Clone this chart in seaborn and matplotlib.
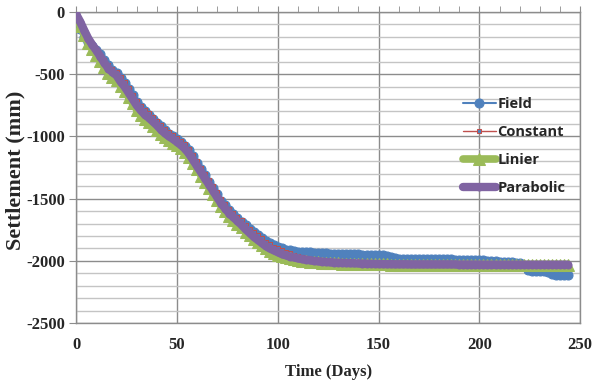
import matplotlib
matplotlib.use("Agg")
import matplotlib.pyplot as plt
from matplotlib.ticker import MultipleLocator
import pandas as pd
import seaborn as sb

# readings every 2 days, day 0 .. 244
days = list(range(0, 246, 2))

field = [-60, -140, -200, -240, -275, -305, -340, -385, -430, -465, -490,
         -530, -575, -620, -670, -720, -765, -800, -830, -860, -890,
         -920, -950, -980, -1000, -1020, -1045, -1075, -1110, -1160, -1210,
         -1260, -1310, -1365, -1415, -1465, -1515, -1555, -1595, -1625, -1655,
         -1685, -1715, -1745, -1770, -1795, -1820, -1840, -1860, -1875, -1890,
         -1900, -1910, -1915, -1920, -1925, -1928, -1930, -1932, -1934, -1936,
         -1938, -1940, -1941, -1942, -1943, -1944, -1945, -1946, -1947, -1948,
         -1949, -1950, -1951, -1952, -1953, -1955, -1962, -1972, -1980, -1982,
         -1982, -1983, -1983, -1984, -1984, -1985, -1985, -1986, -1986, -1987,
         -1987, -1988, -1988, -1989, -1989, -1990, -1990, -1991, -1992, -1993,
         -1995, -1998, -2000, -2003, -2005, -2008, -2010, -2012, -2015, -2018,
         -2040, -2075, -2080, -2080, -2082, -2085, -2088, -2108, -2110, -2112,
         -2112, -2112]

constant = [-20, -80, -150, -210, -255, -300, -345, -385, -425, -455, -480,
            -525, -565, -615, -665, -715, -755, -790, -815, -845, -875,
            -910, -940, -965, -985, -1010, -1035, -1065, -1100, -1150, -1200,
            -1250, -1300, -1350, -1400, -1450, -1500, -1540, -1580, -1615, -1645,
            -1675, -1710, -1740, -1770, -1795, -1820, -1845, -1865, -1885, -1900,
            -1915, -1930, -1940, -1950, -1960, -1968, -1975, -1982, -1988, -1993,
            -1997, -2000, -2003, -2006, -2008, -2010, -2012, -2014, -2015, -2016,
            -2018, -2018, -2019, -2019, -2020, -2020, -2021, -2021, -2022, -2022,
            -2022, -2023, -2023, -2023, -2024, -2024, -2024, -2024, -2025, -2025,
            -2025, -2025, -2025, -2025, -2025, -2025, -2025, -2025, -2025, -2025,
            -2025, -2025, -2025, -2025, -2025, -2025, -2025, -2025, -2025, -2025,
            -2025, -2025, -2025, -2025, -2025, -2025, -2025, -2025, -2025, -2025,
            -2025, -2025]

linier = [-40, -115, -185, -250, -300, -345, -395, -445, -490, -520, -545,
          -595, -635, -685, -735, -785, -825, -860, -885, -915, -945,
          -980, -1005, -1030, -1050, -1070, -1095, -1125, -1165, -1215, -1265,
          -1315, -1365, -1415, -1465, -1510, -1560, -1600, -1640, -1670, -1700,
          -1730, -1765, -1795, -1825, -1850, -1875, -1900, -1920, -1935, -1950,
          -1962, -1972, -1980, -1987, -1993, -1998, -2002, -2006, -2009, -2012,
          -2014, -2016, -2018, -2019, -2020, -2021, -2022, -2023, -2024, -2025,
          -2026, -2026, -2027, -2027, -2028, -2028, -2028, -2029, -2029, -2029,
          -2030, -2030, -2030, -2030, -2030, -2030, -2030, -2030, -2030, -2030,
          -2030, -2030, -2030, -2030, -2030, -2030, -2030, -2030, -2030, -2030,
          -2030, -2030, -2030, -2030, -2030, -2030, -2030, -2030, -2030, -2030,
          -2030, -2030, -2030, -2030, -2030, -2030, -2030, -2030, -2030, -2030,
          -2030, -2030]

parabolic = [-20, -80, -150, -215, -265, -310, -360, -410, -455, -485, -510,
             -560, -600, -650, -700, -750, -790, -825, -850, -880, -910,
             -945, -975, -1000, -1020, -1045, -1070, -1100, -1140, -1190, -1240,
             -1290, -1340, -1390, -1440, -1490, -1540, -1580, -1620, -1650, -1680,
             -1710, -1745, -1775, -1805, -1830, -1855, -1880, -1900, -1915, -1930,
             -1945, -1955, -1965, -1972, -1980, -1985, -1990, -1995, -2000, -2003,
             -2006, -2009, -2011, -2013, -2015, -2016, -2017, -2018, -2019, -2020,
             -2021, -2022, -2023, -2024, -2025, -2025, -2026, -2026, -2027, -2027,
             -2027, -2027, -2028, -2028, -2028, -2028, -2028, -2028, -2028, -2028,
             -2028, -2028, -2028, -2028, -2029, -2029, -2029, -2029, -2029, -2029,
             -2030, -2030, -2030, -2030, -2030, -2030, -2030, -2030, -2030, -2030,
             -2030, -2030, -2030, -2030, -2030, -2030, -2030, -2030, -2030, -2030,
             -2030, -2030]

x_ticks = [0, 50, 100, 150, 200, 250]
y_ticks = [0, -500, -1000, -1500, -2000, -2500]

df = pd.DataFrame({"day": days, "Field": field, "Constant": constant,
                   "Linier": linier, "Parabolic": parabolic})

sb.set_style("white")
plt.rcParams["axes.unicode_minus"] = False

fig = plt.figure(figsize=(6, 3.82), dpi=100)
ax = fig.add_axes([0.127, 0.154, 0.840, 0.815])

grid_major = "#8c8c8c"
grid_minor = "#c4c4c4"

styles = {
    "Field": dict(color="#4F81BD", lw=1.5, marker="o", ms=6.5, mec="#4F81BD"),
    "Constant": dict(color="#C0504D", lw=1.0, marker="s", ms=3, mec="#C0504D",
                     mfc="#4F81BD"),
    "Linier": dict(color="#9BBB59", lw=5.5, marker="^", ms=8, mec="#9BBB59"),
    "Parabolic": dict(color="#8064A2", lw=6.0, marker="o", ms=5, mec="#8064A2"),
}

for i, name in enumerate(["Field", "Constant", "Linier", "Parabolic"]):
    sb.lineplot(data=df, x="day", y=name, ax=ax, label=name, sort=False,
                estimator=None, zorder=3 + i, **styles[name])

ax.set_xlim(0, 250)
ax.set_ylim(-2500, 0)
ax.set_xticks(x_ticks)
ax.set_yticks(y_ticks)
ax.xaxis.set_minor_locator(MultipleLocator(10))
ax.yaxis.set_minor_locator(MultipleLocator(100))

ax.grid(True, which="major", color=grid_major, lw=1.0, zorder=0)
ax.grid(True, which="minor", axis="y", color=grid_minor, lw=1.0, zorder=0)
ax.grid(False, which="minor", axis="x")
ax.set_axisbelow(True)

for side in ["left", "top", "right", "bottom"]:
    ax.spines[side].set_color(grid_major)
    ax.spines[side].set_linewidth(1.0)

ax.tick_params(axis="x", which="both", top=True, bottom=False, labeltop=False,
               labelbottom=True, direction="out", length=4, color=grid_major,
               pad=6)
ax.tick_params(axis="y", which="major", left=True, direction="out", length=5,
               color=grid_major, pad=3)
ax.tick_params(axis="y", which="minor", left=False)

for lab in ax.get_xticklabels() + ax.get_yticklabels():
    lab.set_fontfamily("Liberation Serif")
    lab.set_fontweight("bold")
    lab.set_fontsize(12)

ax.set_xlabel("Time (Days)", family="Liberation Serif", weight="bold",
              fontsize=12, labelpad=8)
ax.set_ylabel("Settlement (mm)", family="Liberation Serif", weight="bold",
              fontsize=16)
ax.yaxis.set_label_coords(-0.10, 0.49)

leg = ax.legend(loc="upper left", bbox_to_anchor=(0.755, 0.745), frameon=False,
                prop={"family": "Open Sans", "weight": "bold", "size": 10.5},
                handlelength=2.3, handletextpad=0.1, labelspacing=0.95,
                borderaxespad=0)

fig.savefig("out.png", dpi=100)
plt.close(fig)
